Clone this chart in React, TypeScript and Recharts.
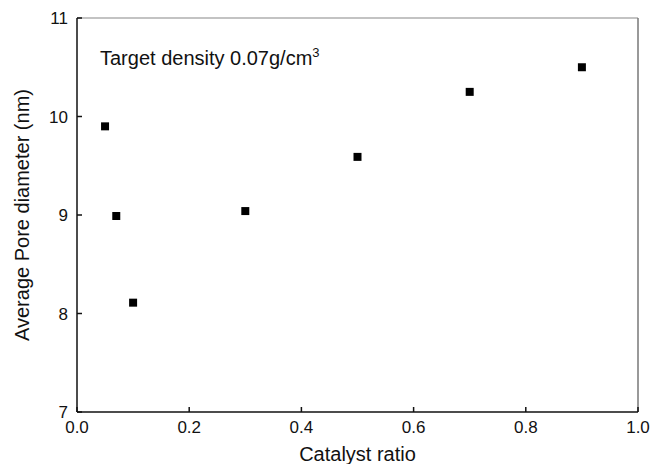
import { ScatterChart, Scatter, XAxis, YAxis, ZAxis, ReferenceLine, Label } from 'recharts'

const catalystRatio = [0.05, 0.07, 0.1, 0.3, 0.5, 0.7, 0.9]
const poreDiameter = [9.9, 8.99, 8.11, 9.04, 9.59, 10.25, 10.5]
const xTicks = [0, 0.2, 0.4, 0.6, 0.8, 1.0]
const yTicks = [7, 8, 9, 10, 11]

const data = catalystRatio.map((x, i) => ({ x, y: poreDiameter[i] }))

const font = '"Liberation Sans", Arial, Helvetica, sans-serif'

export default function App () {
    return (
        <div style={{ position: 'absolute', left: 0, top: 0, width: 651, height: 464, background: '#fff' }}>
            <ScatterChart
            width={651}
            height={464}
            margin={{ top: 18, right: 13, left: 17, bottom: 22 }}
            style={{ fontFamily: font }}
            >
                <ReferenceLine y={11} stroke='#888' strokeWidth={1.2} />
                <ReferenceLine x={1} stroke='#777' strokeWidth={1.5} />
                <XAxis
                type='number'
                dataKey='x'
                domain={[0, 1]}
                ticks={xTicks}
                tickFormatter={(v: number) => v.toFixed(1)}
                height={30}
                stroke='#111'
                strokeWidth={1.5}
                tickSize={-5}
                tickMargin={14}
                tick={{ fill: '#111', fontSize: 17 }}
                >
                    <Label value='Catalyst ratio' position='bottom' offset={5} style={{ fill: '#111', fontSize: 20 }} />
                </XAxis>
                <YAxis
                type='number'
                dataKey='y'
                domain={[7, 11]}
                ticks={yTicks}
                width={60}
                stroke='#111'
                strokeWidth={1.5}
                tickSize={-5}
                tickMargin={14}
                tick={{ fill: '#111', fontSize: 17 }}
                >
                    <Label value='Average Pore diameter (nm)' angle={-90} position='insideLeft' offset={5} style={{ fill: '#111', fontSize: 20, textAnchor: 'middle' }} />
                </YAxis>
                <ZAxis range={[100, 100]} />
                <Scatter data={data} fill='#000' shape='square' isAnimationActive={false} />
            </ScatterChart>
            <div style={{ position: 'absolute', left: 100, top: 48, fontFamily: font, fontSize: 20, lineHeight: '20px', color: '#111', whiteSpace: 'nowrap' }}>
                Target density 0.07g/cm<sup style={{ fontSize: 13, verticalAlign: 'super', lineHeight: 0 }}>3</sup>
            </div>
        </div>
    )
}
